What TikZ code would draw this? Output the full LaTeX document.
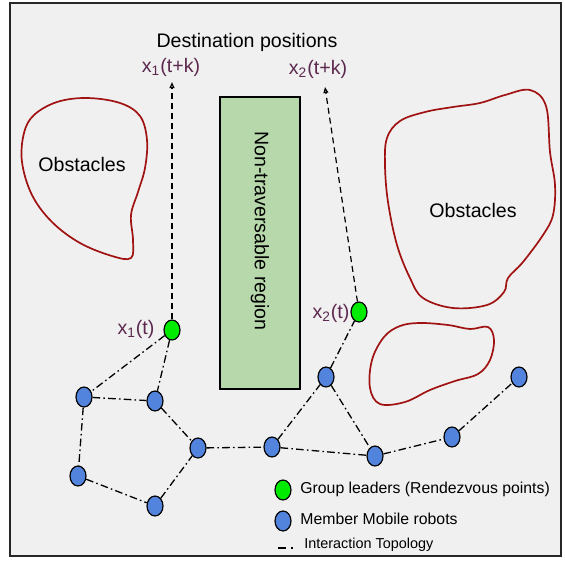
\documentclass[tikz,border=0pt]{standalone}
\usepackage{fontspec}
\setmainfont{Liberation Sans}
\usetikzlibrary{arrows.meta,shapes.geometric}
\definecolor{bggray}{RGB}{240,240,240}
\definecolor{obred}{RGB}{160,18,18}
\definecolor{lblcol}{RGB}{92,40,78}
\definecolor{robblue}{RGB}{82,132,222}
\definecolor{leadgreen}{RGB}{0,235,0}
\definecolor{regiongreen}{RGB}{183,216,170}

\begin{document}
\begin{tikzpicture}[x=0.5pt,y=-0.5pt]
\tikzstyle{every node}+=[inner sep=0pt]
\tikzstyle{robot}=[ellipse,draw=black,line width=0.6pt,fill=robblue,minimum width=8pt,minimum height=10pt]
\tikzstyle{leader}=[robot,fill=leadgreen]
\tikzstyle{link}=[line width=0.65pt,dash pattern=on 3.8pt off 1.6pt on 0.8pt off 1.6pt]
\tikzstyle{goal}=[line width=0.6pt,dash pattern=on 3pt off 2pt,-{Triangle[open,length=3pt,width=2.4pt]}]
\tikzstyle{obstacle}=[draw=obred,line width=0.85pt]
\tikzstyle{lbl}=[text=lblcol,font=\fontsize{9.8}{11}\selectfont]
\tikzstyle{bigtxt}=[font=\fontsize{9.8}{11}\selectfont]
\tikzstyle{legtxt}=[anchor=west,font=\fontsize{7.9}{9}\selectfont]
\useasboundingbox (0,0) rectangle (565,568);
\draw [fill=bggray,draw=black!85,line width=1pt] (10,3) rectangle (561,556);
\draw [obstacle] plot [smooth cycle,tension=0.6] coordinates {(87,98) (120,103) (140,116) (147,140) (145,168) (138,192) (131,215) (133,240) (131,258) (112,256) (80,243) (52,222) (32,195) (22,162) (24,133) (34,115) (57,102)};
\draw [obstacle] plot [smooth cycle,tension=0.6] coordinates {(530,90) (546,106) (550,152) (555,185) (553,215) (543,235) (523,262) (508,278) (504,292) (487,305) (453,308) (423,298) (410,278) (397,245) (388,202) (385,165) (387,138) (400,121) (425,112) (453,107) (480,103) (505,95)};
\draw [obstacle] plot [smooth cycle,tension=0.6] coordinates {(372,360) (384,337) (400,326) (420,323) (448,325) (470,329) (488,327) (494,340) (490,360) (478,374) (455,381) (430,390) (405,402) (380,404) (370,388)};
\node [bigtxt] (obs1) at (82,164) {Obstacles};
\node [bigtxt] (obs2) at (473,210) {Obstacles};
\node [draw=black,line width=0.75pt,fill=regiongreen,minimum width=40pt,minimum height=146pt] (region) at (260,243) {};
\node [bigtxt,rotate=-90] (regiontxt) at (260,231) {Non-traversable region};
\node [bigtxt] (dest) at (247,42) {Destination positions};
\node [lbl] (dest1) at (171,67) {x\textsubscript{1}(t+k)};
\node [lbl] (dest2) at (318,69) {x\textsubscript{2}(t+k)};
\coordinate (tip1) at (172,82);
\coordinate (tip2) at (325,87);
\node [leader] (lead1) at (172,330) {};
\node [leader] (lead2) at (359,312) {};
\node [lbl] (lab1) at (136,329) {x\textsubscript{1}(t)};
\node [lbl] (lab2) at (331,313) {x\textsubscript{2}(t)};
\node [robot] (r1) at (84,397) {};
\node [robot] (r2) at (155,401) {};
\node [robot] (r3) at (198,448) {};
\node [robot] (r4) at (272,447) {};
\node [robot] (r5) at (326,377) {};
\node [robot] (r6) at (375,456) {};
\node [robot] (r7) at (452,437) {};
\node [robot] (r8) at (519,377) {};
\node [robot] (r9) at (78,476) {};
\node [robot] (r10) at (155,506) {};
\draw [goal] (lead1) -- (tip1);
\draw [goal] (lead2) -- (tip2);
\draw [link] (lead1) -- (r1);
\draw [link] (lead1) -- (r2);
\draw [link] (r1) -- (r2);
\draw [link] (r1) -- (r9);
\draw [link] (r9) -- (r10);
\draw [link] (r10) -- (r3);
\draw [link] (r2) -- (r3);
\draw [link] (r3) -- (r4);
\draw [link] (r4) -- (r5);
\draw [link] (r5) -- (lead2);
\draw [link] (r5) -- (r6);
\draw [link] (r4) -- (r6);
\draw [link] (r6) -- (r7);
\draw [link] (r7) -- (r8);
\node [leader] (keylead) at (283,490) {};
\node [legtxt] (keyleadtxt) at (300,489) {Group leaders (Rendezvous points)};
\node [robot] (keyrobot) at (283,521) {};
\node [legtxt] (keyrobottxt) at (300,519) {Member Mobile robots};
\coordinate (keya) at (278,548);
\coordinate (keyb) at (295,548);
\draw [line width=0.65pt,dash pattern=on 4pt off 2.5pt on 1pt off 3pt] (keya) -- (keyb);
\node [legtxt,font=\fontsize{7.2}{8}\selectfont] (keylinktxt) at (304,545) {Interaction Topology};
\end{tikzpicture}
\end{document}
